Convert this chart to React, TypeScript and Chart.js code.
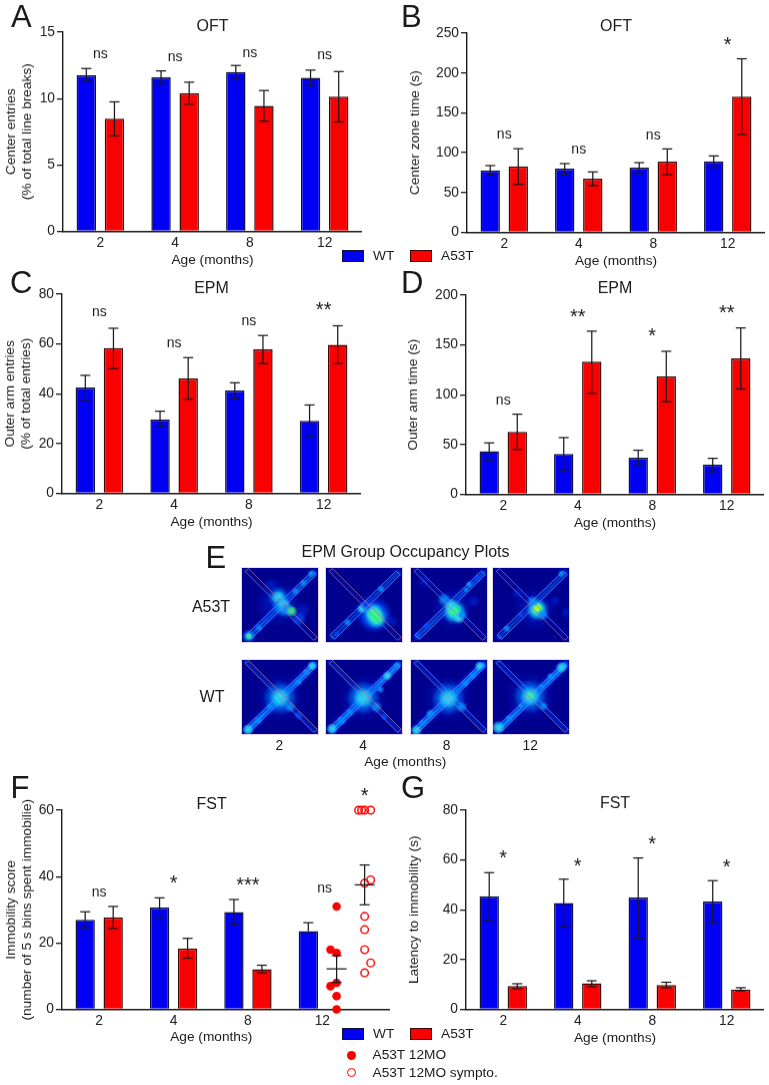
import React, { useEffect, useRef } from "react";
import { Chart, registerables } from "chart.js";
Chart.register(...registerables);

const FONT = '"Liberation Sans", Arial, sans-serif';
const INK = "#1a1a1a";
const BLUE = "#0000f5";
const RED = "#fb0000";

const ages = ["2", "4", "8", "12"];

// A
const aWT = [11.76, 11.6, 12.0, 11.56];
const aWTHi = [12.26, 12.08, 12.49, 12.14];
const aWTLo = [11.3, 11.13, 11.46, 10.98];
const aMut = [8.49, 10.4, 9.45, 10.15];
const aMutHi = [9.75, 11.23, 10.6, 12.03];
const aMutLo = [7.19, 9.57, 8.29, 8.24];
const aSigX = [0, 1, 2, 3];
const aSigY = [13.3, 13.1, 13.4, 13.2];
const aSigT = ["ns", "ns", "ns", "ns"];
// B
const bWT = [77.9, 80, 81.2, 89.2];
const bWTHi = [83.8, 86.3, 87.5, 95.9];
const bWTLo = [72, 72.4, 74, 81.7];
const bMut = [82.9, 67.4, 88.8, 170.4];
const bMutHi = [105, 75.8, 104.7, 217.8];
const bMutLo = [60.3, 58.6, 72.4, 122.7];
const bSigX = [0, 1, 2, 3];
const bSigY = [122.3, 103.4, 121, 241.6];
const bSigT = ["ns", "ns", "ns", "*"];
// C
const cWT = [42.5, 29.7, 41.3, 29.1];
const cWTHi = [47.4, 33, 44.4, 35.5];
const cWTLo = [37.3, 26.7, 38, 22.6];
const cMut = [58.3, 46.1, 57.8, 59.6];
const cMutHi = [66.3, 54.5, 63.4, 67.3];
const cMutLo = [50.1, 37.8, 52.1, 52.1];
const cSigX = [0, 1, 2, 3];
const cSigY = [72.4, 59.9, 68.9, 75.6];
const cSigT = ["ns", "ns", "ns", "**"];
// D
const dWT = [43.3, 40.6, 36.9, 29.9];
const dWTHi = [51.7, 57, 44.3, 36.2];
const dWTLo = [34.6, 24.5, 29.2, 22.8];
const dMut = [62.8, 133.2, 118.5, 136.6];
const dMutHi = [80.5, 163.8, 143.6, 167.1];
const dMutLo = [45, 101.3, 93, 105.7];
const dSigX = [0, 1, 2, 3];
const dSigY = [93.3, 183, 163.8, 187.6];
const dSigT = ["ns", "**", "*", "**"];
// F
const fWT = [27, 30.7, 29.3, 23.6];
const fWTHi = [29.4, 33.6, 33.1, 26.1];
const fWTLo = [24.6, 27.6, 25.6, 23.6];
const fMut = [27.7, 18.4, 12.1];
const fMutHi = [31, 21.4, 13.3];
const fMutLo = [24.4, 15.4, 11];
const fSigX = [0, 1, 2, 3.03, 3.57];
const fSigY = [35.1, 39.6, 38.9, 36.3, 66];
const fSigT = ["ns", "*", "***", "ns", "*"];
const mo12X = [3.192, 3.11, 3.192, 3.192, 3.11, 3.192, 3.192];
const mo12Y = [31, 18, 17, 8, 7, 4, 0];
const symptoX = [3.488, 3.528, 3.569, 3.65, 3.65, 3.569, 3.569, 3.569, 3.569, 3.65, 3.569];
const symptoY = [60, 60, 60, 60, 39, 38, 28, 24, 18, 14, 11];
const meanX = [3.192, 3.569];
const meanY = [12.2, 37.5];
const meanHi = [16.2, 43.5];
const meanLo = [8.1, 31.5];
// G
const gWT = [45.4, 42.7, 44.9, 43.3];
const gWTHi = [54.9, 52.3, 60.8, 51.7];
const gWTLo = [35.8, 33.2, 28.5, 34.7];
const gMut = [9.4, 10.5, 9.8, 8];
const gMutHi = [10.3, 11.5, 10.9, 8.7];
const gMutLo = [8.3, 9.1, 8.7, 7.4];
const gSigX = [0, 1, 2, 3];
const gSigY = [62.7, 59.5, 68.6, 59.2];
const gSigT = ["*", "*", "*", "*"];

// E: occupancy maps, hot spots as [x%, y%, radius, level]
const occA2 = [[48,48,24,-1],[80,56,8,-1],[38,24,8,-1],[74,68,8,0],[10,91,7,1],[10,91,4,3],[23,80,4,1],[33,70,3,0],[70,32,4,1],[80,21,4,1],[90,9,4,1],[48,40,11,1],[48,40,7,2],[52,52,10,1],[55,50,7,2],[58,56,8,1],[65,58,6,3]];
const occA4 = [[60,60,20,-1],[85,72,7,-1],[64,64,18,0],[64,64,14,1],[62,60,10,2],[66,68,10,2],[63,62,8,3],[67,68,7,3],[47,55,5,2],[72,29,4,1],[29,73,4,1],[15,88,3,0],[53,50,6,0]];
const occA8 = [[55,55,22,-1],[18,19,7,-1],[82,45,7,-1],[57,59,13,1],[57,59,11,2],[56,57,8,3],[52,50,7,2],[63,67,6,2],[67,63,5,1],[44,43,7,1],[76,23,4,1],[72,30,3,1],[87,15,4,0],[22,78,4,0],[10,90,4,0]];
const occA12 = [[55,55,22,-1],[81,45,6,-1],[95,60,6,-1],[33,35,7,-1],[58,56,12,1],[58,56,10,2],[58,55,7,3],[58,54,5,4],[65,63,6,1],[52,45,6,1],[89,9,4,1],[19,81,4,1],[37,63,3,0],[10,92,3,0]];
const occW2 = [[50,51,24,-1],[50,51,17,1],[50,51,10,2],[48,49,4,2],[9,93,6,2],[22,81,4,1],[37,63,4,1],[74,30,4,1],[84,17,4,1],[91,9,5,2],[63,63,6,1],[74,74,5,0]];
const occW4 = [[49,51,24,-1],[49,51,17,1],[49,51,10,2],[9,92,6,2],[21,81,5,1],[80,22,5,2],[71,40,4,1],[92,9,4,1],[66,63,6,1],[32,70,4,1],[76,76,4,0]];
const occW8 = [[49,52,24,-1],[49,52,17,1],[49,52,10,2],[8,94,6,2],[26,72,5,1],[16,84,4,1],[71,32,4,1],[80,22,4,1],[89,9,5,2],[66,63,6,1]];
const occW12 = [[49,49,25,-1],[49,49,17,1],[49,49,10,2],[49,48,5,3],[8,90,7,2],[89,11,6,2],[75,23,4,1],[22,78,4,1],[37,62,3,1],[64,36,3,1],[66,62,5,1]];
const occupancyA53T = [occA2, occA4, occA8, occA12];
const occupancyWT = [occW2, occW4, occW8, occW12];
const openGlowA53T = [0.45, 0.28, 0.38, 0.28];
const openGlowWT = [0.85, 0.9, 0.9, 0.9];
const closedGlowA53T = [0.12, 0.12, 0.15, 0.1];
const closedGlowWT = [0.35, 0.35, 0.3, 0.35];
const closedArm = [[5.2,5.7],[10,2.2],[97.8,92.5],[93,96.5],[5.2,5.7]];
const openArm = [[91.4,5.3],[96.5,10],[12.5,95],[6.5,89.4],[91.4,5.3]];
const openAxis = [[9.5,92.2],[94,7.6]];
const closedAxis = [[7.6,4],[95.4,94.5]];
const levels = ["0,40,225", "0,70,255", "0,140,255", "40,220,240", "50,255,130", "190,255,40"];

const pts = (arr: number[][]) => arr.map(([x, y]) => ({ x, y }));

const sigMarks = {
  id: "sigMarks",
  afterDatasetsDraw(chart: any) {
    const o = chart.options.plugins.sigMarks;
    if (!o || !o.x) return;
    const ctx = chart.ctx;
    ctx.save();
    ctx.fillStyle = INK;
    ctx.textAlign = "center";
    ctx.textBaseline = "alphabetic";
    o.x.forEach((v: number, i: number) => {
      const star = o.text[i].includes("*");
      ctx.font = `${star ? 20 : 14}px ${FONT}`;
      const px = chart.scales.x.getPixelForValue(v);
      const py = chart.scales.y.getPixelForValue(o.y[i]);
      ctx.fillText(o.text[i], px, py + (star ? 11.4 : 3.6));
    });
    ctx.restore();
  },
};

const errorBars = {
  id: "errorBars",
  afterDatasetsDraw(chart: any) {
    const ctx = chart.ctx;
    const ys = chart.scales.y;
    if (!ys || !chart.options.plugins.errorBars) return;
    ctx.save();
    ctx.strokeStyle = INK;
    ctx.lineWidth = 1.25;
    const seg = (a: number, b: number, c: number, d: number) => {
      ctx.beginPath();
      ctx.moveTo(a, b);
      ctx.lineTo(c, d);
      ctx.stroke();
    };
    chart.data.datasets.forEach((ds: any, i: number) => {
      if (!ds.errHi) return;
      const meta = chart.getDatasetMeta(i);
      meta.data.forEach((el: any, j: number) => {
        const hi = ys.getPixelForValue(ds.errHi[j]);
        const lo = ys.getPixelForValue(ds.errLo[j]);
        seg(el.x, hi, el.x, lo);
        seg(el.x - 5, hi, el.x + 5, hi);
        if (ds.errLo[j] !== ds.data[j].y) seg(el.x - 5, lo, el.x + 5, lo);
      });
    });
    const m = chart.options.plugins.errorBars.means;
    if (m) {
      m.x.forEach((v: number, i: number) => {
        const px = chart.scales.x.getPixelForValue(v);
        const hi = ys.getPixelForValue(m.hi[i]);
        const lo = ys.getPixelForValue(m.lo[i]);
        const mid = ys.getPixelForValue(m.y[i]);
        seg(px, hi, px, lo);
        seg(px - 5, hi, px + 5, hi);
        seg(px - 5, lo, px + 5, lo);
        seg(px - 10, mid, px + 10, mid);
      });
    }
    ctx.restore();
  },
};

type PanelBox = { left: number; top: number; plotL: number; plotR: number; plotT: number; plotB: number; titleY: number; yTitleX: number };

function barConfig(p: PanelBox, title: string, yTitle: string | string[], yMax: number, yStep: number, s: any, extra?: any) {
  const titleLh = 16 * 1.2;
  const axisSize = 13.7;
  const yLh = axisSize * 1.2;
  const xHeight = 36.5;
  const padTop = p.titleY - p.top - titleLh / 2;
  const padBottom = p.plotT - p.top - titleLh - padTop;
  const xMax = extra?.xMax ?? 3.5;
  const ownTitles = !extra?.separateTitles;
  const datasets: any[] = [
    { type: "bar", data: s.wt.map((y: number, x: number) => ({ x, y })), errHi: s.wtHi, errLo: s.wtLo, backgroundColor: BLUE, borderColor: "#10103a", borderWidth: 1.5, barPercentage: 0.69, categoryPercentage: 0.753, order: 2 },
    { type: "bar", data: s.mut.map((y: number, x: number) => ({ x, y })), errHi: s.mutHi, errLo: s.mutLo, backgroundColor: RED, borderColor: "#3a0808", borderWidth: 1.5, barPercentage: 0.69, categoryPercentage: 0.753, order: 2 },
    ...(extra?.datasets ?? []),
  ];
  return {
    type: "bar",
    data: { datasets },
    options: {
      animation: false,
      responsive: false,
      devicePixelRatio: 1,
      layout: { padding: { top: ownTitles ? 0 : p.plotT - p.top }, autoPadding: false },
      plugins: {
        legend: { display: false },
        tooltip: { enabled: false },
        title: { display: ownTitles, text: title, fullSize: false, color: INK, font: { family: FONT, size: 16, weight: "normal" }, padding: { top: padTop, bottom: padBottom } },
        sigMarks: s.sig,
        errorBars: { means: extra?.means },
      },
      scales: {
        x: {
          type: "linear",
          offset: false,
          min: -0.5,
          max: xMax,
          afterBuildTicks: (sc: any) => { sc.ticks = ages.map((_, i) => ({ value: i })); },
          afterFit: (sc: any) => { sc.height = xHeight; },
          grid: { display: false, drawTicks: false, offset: false },
          border: { display: true, color: INK, width: 1.4 },
          ticks: { color: INK, font: { family: FONT, size: 13.8 }, padding: 3.6, maxRotation: 0, autoSkip: false, callback: (v: number) => ages[v] },
          title: { display: ownTitles, text: "Age (months)", color: INK, font: { family: FONT, size: axisSize }, padding: 0 },
        },
        y: {
          min: 0,
          max: yMax,
          afterFit: (sc: any) => { sc.width = p.plotL - p.left; },
          grid: { drawOnChartArea: false, drawTicks: true, tickLength: 6, color: INK, lineWidth: 1.3 },
          border: { display: true, color: INK, width: 1.4 },
          ticks: { stepSize: yStep, color: INK, font: { family: FONT, size: 13.8 }, padding: 2 },
          title: { display: true, text: yTitle, color: INK, font: { family: FONT, size: axisSize }, padding: { top: p.yTitleX - p.left - yLh / 2, bottom: 0 } },
        },
      },
    },
    plugins: [errorBars, sigMarks],
  };
}

function heatConfig(blobs: number[][], openGlow: number, closedGlow: number) {
  const glow = (axis: number[][], a: number, w: number, rgb: string, order: number) => ({
    type: "line", data: pts(axis), borderColor: `rgba(${rgb},${a})`, borderWidth: w, borderCapStyle: "round", pointRadius: 0, tension: 0, order,
  });
  const outline = (arm: number[][], color: string) => ({
    type: "line", data: pts(arm), borderColor: color, borderWidth: 0.7, pointRadius: 0, tension: 0, order: 1,
  });
  return {
    type: "bubble",
    data: {
      datasets: [
        outline(closedArm, "#a0709c"),
        outline(openArm, "#7f94ff"),
        {
          type: "bubble",
          order: 2,
          data: blobs.map(([x, y, r, level]) => ({ x, y, r, level })),
          borderWidth: 0,
          backgroundColor: (c: any) => {
            if (!c.raw) return "transparent";
            const { x, y, r, level } = c.raw;
            const px = c.chart.scales.x.getPixelForValue(x);
            const py = c.chart.scales.y.getPixelForValue(y);
            if (!Number.isFinite(px) || !Number.isFinite(py) || !Number.isFinite(r)) return "transparent";
            const g = c.chart.ctx.createRadialGradient(px, py, 0, px, py, r);
            const rgb = levels[level + 1];
            const k = level < 0 ? 0.55 : 1;
            g.addColorStop(0, `rgba(${rgb},${k})`);
            g.addColorStop(0.5, `rgba(${rgb},${0.7 * k})`);
            g.addColorStop(1, `rgba(${rgb},0)`);
            return g;
          },
        },
        glow(openAxis, openGlow * 0.85, 2.5, "0,160,255", 3),
        glow(openAxis, openGlow * 0.8, 6, "0,90,255", 4),
        glow(openAxis, openGlow * 0.35, 11, "0,50,255", 5),
        glow(closedAxis, closedGlow, 6, "0,70,255", 6),
      ],
    },
    options: {
      animation: false,
      responsive: false,
      devicePixelRatio: 1,
      layout: { padding: 0, autoPadding: false },
      plugins: { legend: { display: false }, tooltip: { enabled: false } },
      scales: {
        x: { type: "linear", min: 0, max: 100, display: false },
        y: { type: "linear", min: 0, max: 100, reverse: true, display: false },
      },
    },
  };
}

function C({ left, top, width, height, config, style }: any) {
  const ref = useRef<HTMLCanvasElement>(null);
  useEffect(() => {
    const chart = new Chart(ref.current as any, config());
    return () => chart.destroy();
  }, []);
  return <canvas ref={ref} width={width} height={height} style={{ position: "absolute", left, top, width, height, ...style }} />;
}

function T({ x, y, size = 13.8, children, anchor = "center" }: any) {
  const tx = anchor === "center" ? "-50%" : "0";
  return (
    <span style={{ position: "absolute", left: x, top: y - size / 2, fontFamily: FONT, fontSize: size, lineHeight: `${size}px`, color: INK, whiteSpace: "nowrap", transform: `translateX(${tx})` }}>
      {children}
    </span>
  );
}

function Swatch({ x, y, color, edge }: any) {
  return <div style={{ position: "absolute", left: x, top: y, width: 22, height: 12, background: color, border: `1px solid ${edge}`, boxSizing: "border-box" }} />;
}

function Panel({ p, title, yTitle, yMax, yStep, s, extra }: any) {
  const width = p.plotR - p.left;
  const height = p.plotB + 36.5 - p.top;
  return <C left={p.left} top={p.top} width={width} height={height} config={() => barConfig(p, title, yTitle, yMax, yStep, s, extra)} />;
}

const boxA = { left: 0, top: 14, plotL: 63, plotR: 362, plotT: 32, plotB: 231, titleY: 27, yTitleX: 11 };
const boxB = { left: 395, top: 14, plotL: 467, plotR: 765, plotT: 33, plotB: 232, titleY: 27, yTitleX: 415 };
const boxC = { left: 0, top: 275, plotL: 62, plotR: 361, plotT: 294, plotB: 493, titleY: 289, yTitleX: 10 };
const boxD = { left: 395, top: 275, plotL: 466, plotR: 764, plotT: 295, plotB: 494, titleY: 289, yTitleX: 413 };
const boxF = { left: 0, top: 775, plotL: 62, plotR: 390, plotT: 810, plotB: 1009, titleY: 804, yTitleX: 11 };
const boxG = { left: 395, top: 775, plotL: 466, plotR: 764, plotT: 810, plotB: 1009, titleY: 804, yTitleX: 414 };

const heatLefts = [241, 325, 410, 492];
const heatWidth = 78;
const heatHeight = 76;
const heatTopA53T = 567;
const heatTopWT = 659;

const seriesOf = (wt: number[], wtHi: number[], wtLo: number[], mut: number[], mutHi: number[], mutLo: number[], x: number[], y: number[], text: string[]) => ({
  wt, wtHi, wtLo, mut, mutHi, mutLo, sig: { x, y, text },
});

const extraF = {
  xMax: 3.91,
  separateTitles: true,
  means: { x: meanX, y: meanY, hi: meanHi, lo: meanLo },
  datasets: [
    { type: "scatter", data: mo12X.map((x, i) => ({ x, y: mo12Y[i] })), backgroundColor: RED, borderColor: RED, pointRadius: 4.3, pointBorderWidth: 0, showLine: false, clip: false, order: 1 },
    { type: "scatter", data: symptoX.map((x, i) => ({ x, y: symptoY[i] })), backgroundColor: "transparent", borderColor: RED, pointRadius: 3.8, pointBorderWidth: 1.4, showLine: false, clip: false, order: 1 },
  ],
};

export default function App() {
  return (
    <div style={{ position: "absolute", left: 0, top: 0, width: 769, height: 1085, overflow: "hidden", background: "#fff" }}>
      <Panel p={boxA} title="OFT" yTitle={["Center entries", "(% of total line breaks)"]} yMax={15} yStep={5} s={seriesOf(aWT, aWTHi, aWTLo, aMut, aMutHi, aMutLo, aSigX, aSigY, aSigT)} />
      <Panel p={boxB} title="OFT" yTitle="Center zone time (s)" yMax={250} yStep={50} s={seriesOf(bWT, bWTHi, bWTLo, bMut, bMutHi, bMutLo, bSigX, bSigY, bSigT)} />
      <Panel p={boxC} title="EPM" yTitle={["Outer arm entries", "(% of total entries)"]} yMax={80} yStep={20} s={seriesOf(cWT, cWTHi, cWTLo, cMut, cMutHi, cMutLo, cSigX, cSigY, cSigT)} />
      <Panel p={boxD} title="EPM" yTitle="Outer arm time (s)" yMax={200} yStep={50} s={seriesOf(dWT, dWTHi, dWTLo, dMut, dMutHi, dMutLo, dSigX, dSigY, dSigT)} />
      <Panel p={boxF} title="FST" yTitle={["Immobility score", "(number of 5 s bins spent immobilie)"]} yMax={60} yStep={20} s={seriesOf(fWT, fWTHi, fWTLo, fMut, fMutHi, fMutLo, fSigX, fSigY, fSigT)} extra={extraF} />
      <T x={211.7} y={804.3} size={16}>FST</T>
      <T x={211.3} y={1037.3} size={13.7}>Age (months)</T>
      <Panel p={boxG} title="FST" yTitle="Latency to immobility (s)" yMax={80} yStep={20} s={seriesOf(gWT, gWTHi, gWTLo, gMut, gMutHi, gMutLo, gSigX, gSigY, gSigT)} />

      {heatLefts.map((l, i) => (
        <C key={"a" + i} left={l} top={heatTopA53T} width={heatWidth} height={heatHeight} style={{ background: "#00008e", outline: "1px solid #e4d6ee", outlineOffset: -1 }} config={() => heatConfig(occupancyA53T[i], openGlowA53T[i], closedGlowA53T[i])} />
      ))}
      {heatLefts.map((l, i) => (
        <C key={"w" + i} left={l} top={heatTopWT} width={heatWidth} height={heatHeight} style={{ background: "#00008e", outline: "1px solid #e4d6ee", outlineOffset: -1 }} config={() => heatConfig(occupancyWT[i], openGlowWT[i], closedGlowWT[i])} />
      ))}

      <T x={405.5} y={552} size={16}>EPM Group Occupancy Plots</T>
      <T x={211} y={607} size={16}>A53T</T>
      <T x={212} y={697} size={16}>WT</T>
      {ages.map((a, i) => <T key={a} x={[279.3, 363, 446.7, 530.3][i]} y={745.5}>{a}</T>)}
      <T x={405.3} y={762} size={13.7}>Age (months)</T>

      <Swatch x={342} y={250} color={BLUE} edge="#10103a" />
      <T x={373} y={255.7} anchor="start" size={13.7}>WT</T>
      <Swatch x={409.5} y={250} color={RED} edge="#3a0808" />
      <T x={441} y={255.7} anchor="start" size={13.7}>A53T</T>

      <Swatch x={342} y={1028} color={BLUE} edge="#10103a" />
      <T x={373} y={1034.3} anchor="start" size={13.7}>WT</T>
      <Swatch x={409.5} y={1028} color={RED} edge="#3a0808" />
      <T x={441} y={1034.3} anchor="start" size={13.7}>A53T</T>
      <div style={{ position: "absolute", left: 347, top: 1050.5, width: 9, height: 9, borderRadius: "50%", background: RED }} />
      <T x={372.5} y={1055} anchor="start" size={13.7}>A53T 12MO</T>
      <div style={{ position: "absolute", left: 347, top: 1068, width: 9, height: 9, boxSizing: "border-box", borderRadius: "50%", border: `1.4px solid ${RED}` }} />
      <T x={372.5} y={1072.7} anchor="start" size={13.7}>A53T 12MO sympto.</T>

      {[["A", 11, 16.6], ["B", 401, 16.6], ["C", 10, 282.3], ["D", 401, 282], ["E", 205.5, 557], ["F", 10.5, 787], ["G", 401, 787.6]].map(([t, x, y]: any) => (
        <T key={t} x={x} y={y} size={31} anchor="start">{t}</T>
      ))}
    </div>
  );
}
